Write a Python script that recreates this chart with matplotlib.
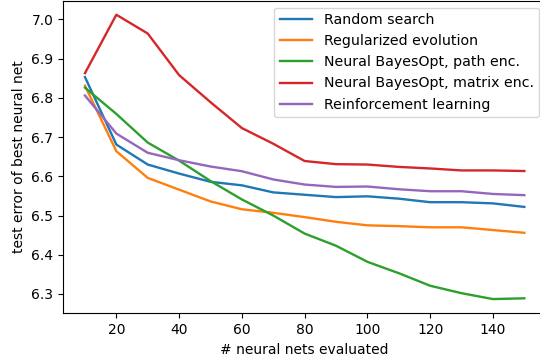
import numpy as np
import matplotlib
matplotlib.use('Agg')
import matplotlib.pyplot as plt

x = np.arange(10, 160, 10)

random_search = [6.853, 6.681, 6.630, 6.607, 6.586, 6.577, 6.559, 6.553, 6.547, 6.549, 6.543, 6.534, 6.534, 6.531, 6.522]
reg_evo = [6.831, 6.664, 6.596, 6.566, 6.536, 6.516, 6.507, 6.496, 6.484, 6.475, 6.473, 6.470, 6.470, 6.463, 6.456]
bo_path = [6.826, 6.759, 6.686, 6.640, 6.588, 6.541, 6.500, 6.454, 6.423, 6.382, 6.353, 6.321, 6.302, 6.287, 6.289]
bo_matrix = [6.863, 7.012, 6.964, 6.858, 6.789, 6.723, 6.683, 6.639, 6.631, 6.630, 6.624, 6.620, 6.615, 6.615, 6.6135]
rl = [6.806, 6.709, 6.660, 6.641, 6.625, 6.613, 6.592, 6.579, 6.573, 6.574, 6.567, 6.562, 6.562, 6.555, 6.552]

labels = ['Random search', 'Regularized evolution', 'Neural BayesOpt, path enc.',
          'Neural BayesOpt, matrix enc.', 'Reinforcement learning']

fig = plt.figure(figsize=(5.4, 3.62), dpi=100)
ax = fig.add_axes([63/540, 48.7/362, 483.3/540, 312.8/362])

for ys, lab in zip([random_search, reg_evo, bo_path, bo_matrix, rl], labels):
    ax.plot(x, ys, label=lab, lw=1.7)

ax.set_xticks([20, 40, 60, 80, 100, 120, 140])
ax.set_xlabel('# neural nets evaluated')
ax.set_ylabel('test error of best neural net')
ax.legend(loc='upper right', handlelength=2.3, prop={'size': 10.2})

fig.savefig('out.png', dpi=100)
